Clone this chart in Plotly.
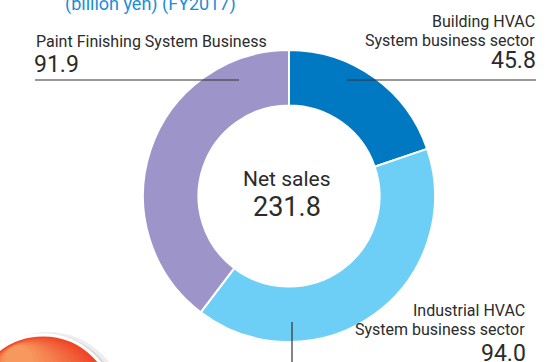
import plotly.graph_objects as go

W, H = 554, 362

# Net sales by business segment (billion yen, FY2017)
segments = ["Building HVAC System business sector",
            "Industrial HVAC System business sector",
            "Paint Finishing System Business"]
sales = [45.8, 94.0, 91.9]
total_label = "231.8"
colors = ["#0079C2", "#6DCFF6", "#9D95C9"]

FONT = "Roboto, Arial, sans-serif"
TXT = "#2b2b2b"


def px(x):
    return x / W


def py(y):
    return 1 - y / H


fig = go.Figure()

# donut
cx, cy, r = 289, 196, 146
fig.add_trace(go.Pie(
    labels=segments, values=sales, sort=False, direction="clockwise",
    rotation=0, hole=0.62, textinfo="none", hoverinfo="label+value",
    marker=dict(colors=colors, line=dict(color="white", width=2)),
    domain=dict(x=[px(cx - r), px(cx + r)], y=[py(cy + r), py(cy - r)]),
    showlegend=False,
))

ann = []


def label(text, x, y, size, xanchor="left", color=TXT):
    ann.append(dict(text=text, x=px(x), y=py(y), xref="paper", yref="paper",
                    xanchor=xanchor, yanchor="bottom", showarrow=False,
                    font=dict(family=FONT, size=size, color=color)))


label("(billion yen) (FY2017)", 150, 17, 18, xanchor="center", color="#1B8ED8")

label("Paint Finishing System Business", 34, 53, 16)
label(f"{sales[2]:.1f}", 32, 80, 23)

label("Building HVAC", 537, 33, 16, xanchor="right")
label("System business sector", 537, 52, 16, xanchor="right")
label(f"{sales[0]:.1f}", 538, 76, 23, xanchor="right")

label("Industrial HVAC", 527, 322, 16, xanchor="right")
label("System business sector", 527, 341, 16, xanchor="right")
label(f"{sales[1]:.1f}", 528, 369, 23, xanchor="right")

label("Net sales", cx - 2, 193, 21, xanchor="center")
label(total_label, cx - 2, 225, 27, xanchor="center")

line = dict(color="#333333", width=1.2)


def seg(x0, y0, x1, y1):
    return dict(type="line", xref="paper", yref="paper", x0=px(x0), x1=px(x1),
                y0=py(y0), y1=py(y1), line=line)


def disc(x, y, rad, fill, outline=None, width=0):
    return dict(type="circle", xref="paper", yref="paper", layer="above",
                x0=px(x - rad), x1=px(x + rad), y0=py(y + rad), y1=py(y - rad),
                fillcolor=fill, line=dict(color=outline or fill, width=width))


shapes = [seg(35, 80, 239, 80), seg(347, 80, 536, 80), seg(292, 322, 292, 362)]

# decorative orange badge in the lower-left corner, shaded towards its top-left
bx, by, br = 43, 407, 70
shapes.append(disc(bx + 5, by + 2, br + 7, "rgba(0,0,0,0.07)"))
shapes.append(disc(bx + 3, by + 1, br + 4, "rgba(0,0,0,0.09)"))
shapes.append(disc(bx, by, br + 2, "#EE4628", "white", 3))
steps = 14
c0, c1 = (0xEE, 0x46, 0x28), (0xF7, 0x98, 0x5E)
for i in range(1, steps + 1):
    f = i / steps
    rgb = tuple(round(a + (b - a) * f) for a, b in zip(c0, c1))
    rad = br - 4 * i
    shapes.append(disc(bx - 0.45 * 3.8 * i, by - 0.89 * 3.8 * i, rad,
                       "rgb(%d,%d,%d)" % rgb))

fig.update_layout(
    width=W, height=H, margin=dict(l=0, r=0, t=0, b=0),
    paper_bgcolor="white", plot_bgcolor="white",
    annotations=ann, shapes=shapes,
)

fig.write_html("out.html")
